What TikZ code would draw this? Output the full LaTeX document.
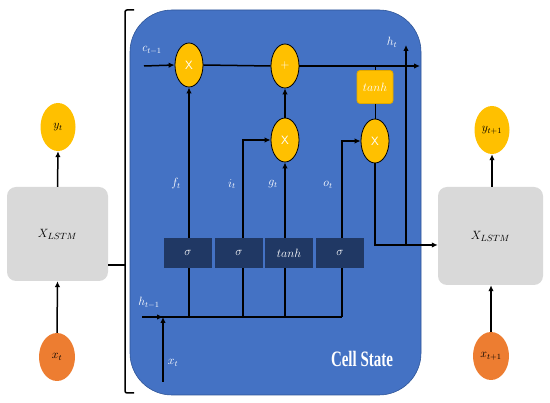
\documentclass[tikz,border=0pt]{standalone}
\usepackage{fontspec}
\newfontfamily\cellfont{Liberation Serif}
\usetikzlibrary{shapes.geometric,arrows.meta,calc}
\definecolor{cellblue}{HTML}{4472C4}
\definecolor{cellborder}{HTML}{2F5597}
\definecolor{gold}{HTML}{FFC000}
\definecolor{goldedge}{HTML}{E0A800}
\definecolor{orangex}{HTML}{ED7D31}
\definecolor{navy}{HTML}{203864}
\definecolor{lgray}{HTML}{D9D9D9}
\begin{document}
\begin{tikzpicture}[x=1pt,y=-1pt,
  >={Latex[length=6pt,width=5.5pt]},
  wire/.style={line width=1.5pt,black},
  thin wire/.style={line width=0.9pt,black},
  op/.style={ellipse,fill=gold,draw=black,line width=0.8pt,minimum width=28pt,minimum height=44pt,inner sep=0pt,text=white,font=\sffamily\fontsize{12}{14}\selectfont},
  outc/.style={ellipse,fill=gold,minimum width=35pt,minimum height=48pt,inner sep=0pt,font=\fontsize{12}{14}\selectfont},
  inc/.style={ellipse,fill=orangex,minimum width=36pt,minimum height=48pt,inner sep=0pt,font=\fontsize{12}{14}\selectfont},
  gatebox/.style={rectangle,fill=navy,minimum width=48pt,minimum height=30pt,inner sep=0pt,text=white,font=\fontsize{12}{14}\selectfont},
  tanhbox/.style={rectangle,rounded corners=3pt,fill=gold,draw=goldedge,line width=0.8pt,minimum width=36pt,minimum height=33pt,inner sep=0pt,text=white,font=\fontsize{12}{14}\selectfont},
  lstm/.style={rectangle,rounded corners=9pt,fill=lgray,inner sep=0pt,font=\fontsize{13}{15}\selectfont},
  lbl/.style={text=white,inner sep=0pt,font=\fontsize{12}{14}\selectfont}
]
\useasboundingbox (0,0) rectangle (550,403);
% cell background
\node[rectangle,rounded corners=42pt,fill=cellblue,draw=cellborder,line width=0.6pt,minimum width=291pt,minimum height=385pt,inner sep=0pt] (cell) at (275.5,202.5) {};
% bracket
\coordinate (bt) at (134,10);
\coordinate (bb) at (134,393);
\coordinate (brk) at (125,265);
\draw[wire,rounded corners=2pt] (bt) -- (125,10) -- (125,393) -- (bb);
% outer nodes
\node[lstm,minimum width=101pt,minimum height=94pt] (L) at (57.5,234) {$X_{LSTM}$};
\node[outc] (yt) at (58,127) {$y_t$};
\node[inc] (xt) at (57,357) {$x_t$};
\node[lstm,minimum width=105pt,minimum height=98pt] (R) at (490.5,236) {$X_{LSTM}$};
\node[outc] (yt1) at (492,130) {$y_{t+1}$};
\node[inc] (xt1) at (491,356) {$x_{t+1}$};
\draw[wire,->] (L.north) -- (yt.south);
\draw[wire,->] (xt.north) -- (L.south);
\draw[wire,->] (R.north -| yt1) -- (yt1.south);
\draw[wire,->] (xt1.north) -- (R.south -| xt1);
\draw[wire] (brk -| L.east) -- (brk);
% coordinates of the cell wires
\coordinate (cin) at (144,66);
\coordinate (cout) at (420,66);
\coordinate (hs) at (142,317);
\coordinate (hj) at (163,317);
\coordinate (he) at (342,317);
\coordinate (xin) at (163,382);
\coordinate (hout) at (375,245);
\coordinate (htop) at (406,45);
% operators
\node[op] (m1) at (189,65) {X};
\node[op] (add) at (285,66) {+};
\node[op] (m2) at (285,140) {X};
\node[op] (m3) at (375,141) {X};
\node[tanhbox] (th) at (375,87) {$tanh$};
% wires
\draw[wire] (hs) -- (he);
\draw[wire,->] (hs) -- (hj);
\draw[wire,->] (xin) -- (hj);
\draw[wire,->] (m1 |- he) -- (m1.south);
\draw[wire,->] (243,317) |- (m2.west);
\draw[wire,->] (m2 |- he) -- (m2.south);
\draw[wire,->] (he) |- (m3.west);
\draw[wire,->] (cin) -- (m1.west);
\draw[wire] (m1.east) -- (add.west);
\draw[wire,->] (add.east) -- (cout);
\draw[wire,->] (m2.north) -- (add.south);
\draw[thin wire] (th.north) -- (th.north |- cout);
\draw[thin wire] (th.south) -- (m3.north);
\draw[wire,->] (m3.south) |- (R.west |- hout);
\draw[wire,->] (htop |- hout) -- (htop);
% gates
\node[gatebox] (g1) at (188,253) {$\sigma$};
\node[gatebox] (g2) at (239,253) {$\sigma$};
\node[gatebox] (g3) at (289,253) {$tanh$};
\node[gatebox] (g4) at (340,253) {$\sigma$};
% labels
\node[lbl] (lc) at (152,50) {$c_{t-1}$};
\node[lbl] (lh) at (149,303) {$h_{t-1}$};
\node[lbl] (lx) at (173,363) {$x_t$};
\node[lbl] (lht) at (392,42) {$h_t$};
\node[lbl] (lf) at (176,184) {$f_t$};
\node[lbl] (li) at (232,184) {$i_t$};
\node[lbl] (lg) at (273,184) {$g_t$};
\node[lbl] (lo) at (328,185) {$o_t$};
\node[text=white,inner sep=0pt] (cs) at (362,359) {\scalebox{0.68}[1]{\cellfont\bfseries\fontsize{22}{24}\selectfont Cell State}};
\end{tikzpicture}
\end{document}
